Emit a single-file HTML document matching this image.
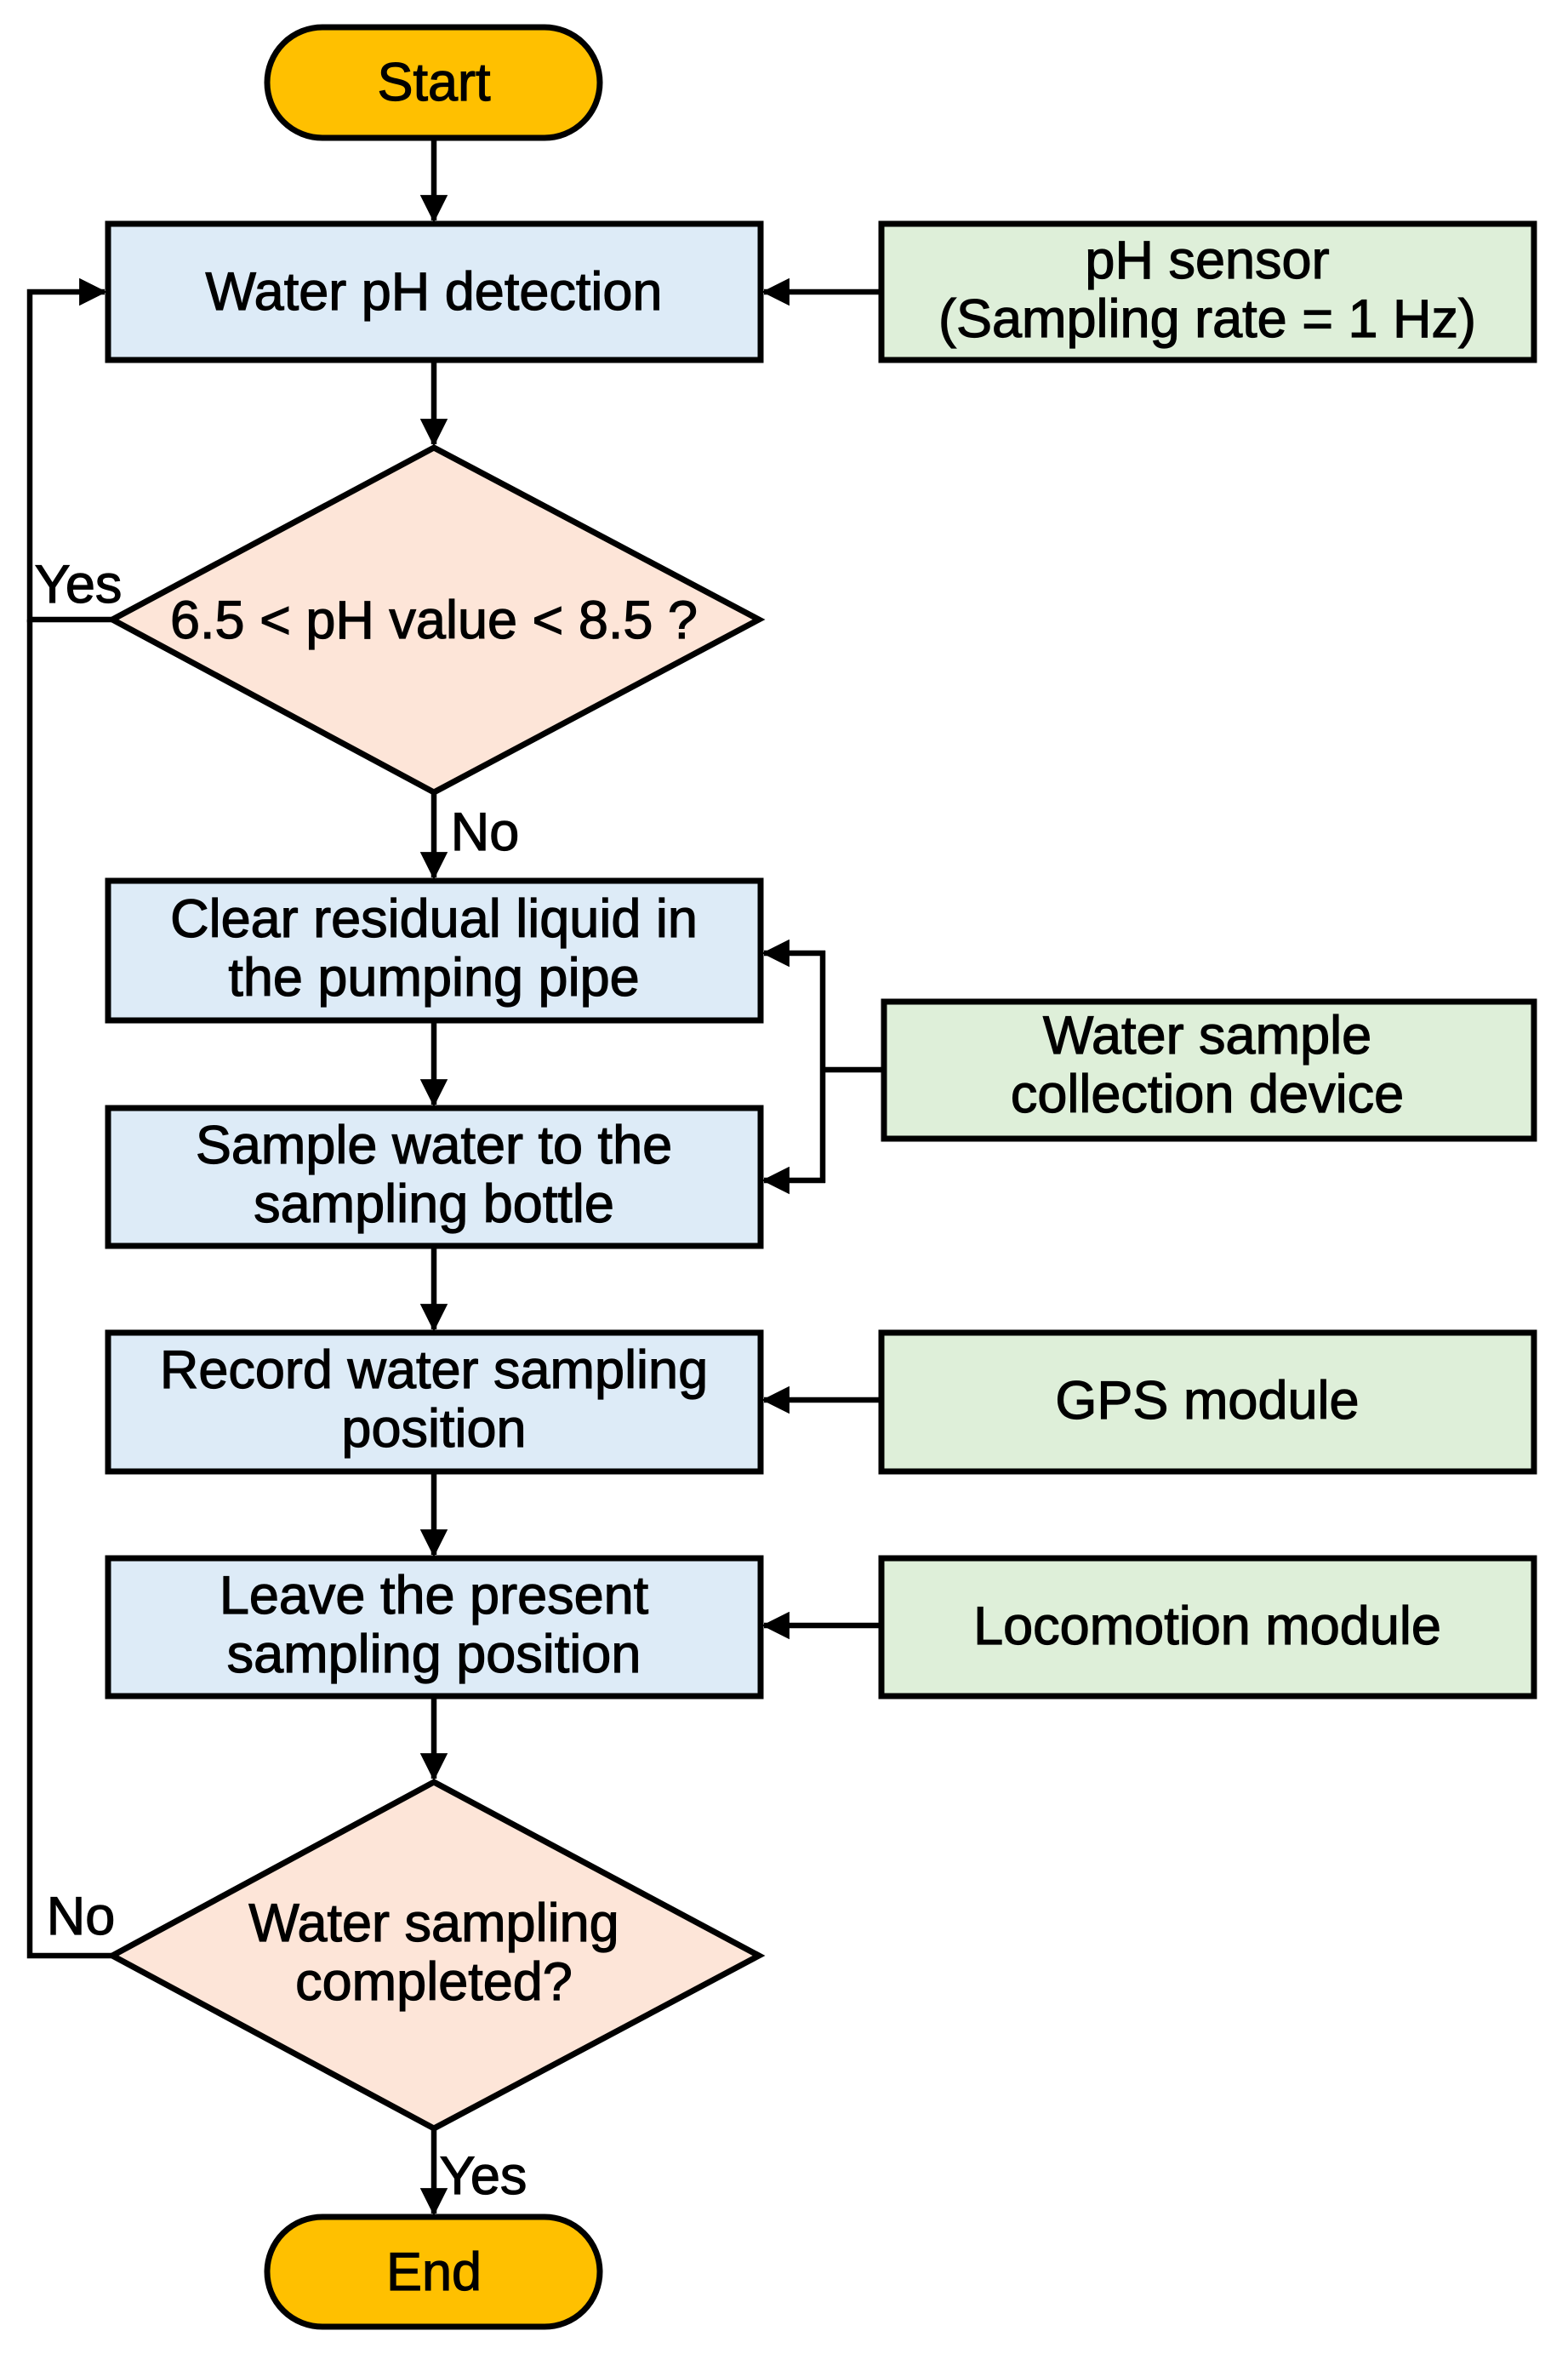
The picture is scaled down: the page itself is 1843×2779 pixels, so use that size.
<!DOCTYPE html>
<html><head><meta charset="utf-8"><style>
html,body{margin:0;padding:0;background:#fff}
svg{display:block}
text{font-family:"Liberation Sans",sans-serif;font-size:63px;fill:#000;stroke:#000;stroke-width:1.2px;text-anchor:middle}
</style></head><body>
<svg width="1843" height="2779" viewBox="0 0 1843 2779" xmlns="http://www.w3.org/2000/svg">
<defs>
<marker id="a" markerWidth="5" markerHeight="5" refX="4.6" refY="2.5" orient="auto" markerUnits="strokeWidth">
<path d="M0,0 L5,2.5 L0,5 z" fill="#000"/>
</marker>
</defs>
<g stroke="#000" stroke-width="6.5" fill="none">
<line x1="510" y1="162" x2="510" y2="259" marker-end="url(#a)"/>
<line x1="510" y1="423" x2="510" y2="522" marker-end="url(#a)"/>
<line x1="510" y1="931" x2="510" y2="1031" marker-end="url(#a)"/>
<line x1="510" y1="1200" x2="510" y2="1298" marker-end="url(#a)"/>
<line x1="510" y1="1464" x2="510" y2="1562" marker-end="url(#a)"/>
<line x1="510" y1="1729" x2="510" y2="1827" marker-end="url(#a)"/>
<line x1="510" y1="1993" x2="510" y2="2090" marker-end="url(#a)"/>
<line x1="510" y1="2501" x2="510" y2="2601" marker-end="url(#a)"/>
<line x1="1036" y1="343" x2="898" y2="343" marker-end="url(#a)"/>
<line x1="1036" y1="1645" x2="898" y2="1645" marker-end="url(#a)"/>
<line x1="1036" y1="1910" x2="898" y2="1910" marker-end="url(#a)"/>
<line x1="1039" y1="1257" x2="967" y2="1257"/>
<line x1="967" y1="1117" x2="967" y2="1390"/>
<line x1="970" y1="1120" x2="898" y2="1120" marker-end="url(#a)"/>
<line x1="970" y1="1387" x2="898" y2="1387" marker-end="url(#a)"/>
<polyline points="132,728 35,728 35,343 123,343" marker-end="url(#a)"/>
<polyline points="132,2298 35,2298 35,728"/>
</g>
<rect x="314" y="32" width="391" height="130" rx="65" fill="#FFC000" stroke="#000" stroke-width="7"/>
<text x="510" y="118">Start</text>
<rect x="314" y="2605" width="391" height="129" rx="65" fill="#FFC000" stroke="#000" stroke-width="7"/>
<text x="510" y="2691">End</text>
<g fill="#DDEBF7" stroke="#000" stroke-width="7">
<rect x="127" y="263" width="767" height="160"/>
<rect x="127" y="1035" width="767" height="164"/>
<rect x="127" y="1302" width="767" height="162"/>
<rect x="127" y="1566" width="767" height="163"/>
<rect x="127" y="1831" width="767" height="162"/>
</g>
<g fill="#DEEFD9" stroke="#000" stroke-width="7">
<rect x="1036" y="263" width="767" height="160"/>
<rect x="1039" y="1177" width="764" height="161"/>
<rect x="1036" y="1566" width="767" height="163"/>
<rect x="1036" y="1831" width="767" height="162"/>
</g>
<g fill="#FDE5D8" stroke="#000" stroke-width="7">
<polygon points="510,526 892,728 510,931 132,728"/>
<polygon points="510,2094 892,2298 510,2501 132,2298"/>
</g>
<text x="510" y="364">Water pH detection</text>
<text x="1419" y="327">pH sensor</text>
<text x="1419" y="396">(Sampling rate = 1 Hz)</text>
<text x="510" y="750">6.5 &lt; pH value &lt; 8.5 ?</text>
<text x="510" y="1101">Clear residual liquid in</text>
<text x="510" y="1170">the pumping pipe</text>
<text x="510" y="1367">Sample water to the</text>
<text x="510" y="1436">sampling bottle</text>
<text x="1419" y="1238">Water sample</text>
<text x="1419" y="1307">collection device</text>
<text x="510" y="1631">Record water sampling</text>
<text x="510" y="1700">position</text>
<text x="1419" y="1667">GPS module</text>
<text x="510" y="1896">Leave the present</text>
<text x="510" y="1965">sampling position</text>
<text x="1419" y="1932">Locomotion module</text>
<text x="510" y="2281">Water sampling</text>
<text x="510" y="2350">completed?</text>
<text x="92" y="708">Yes</text>
<text x="570" y="999">No</text>
<text x="95" y="2273">No</text>
<text x="568" y="2578">Yes</text>
</svg>
</body></html>
